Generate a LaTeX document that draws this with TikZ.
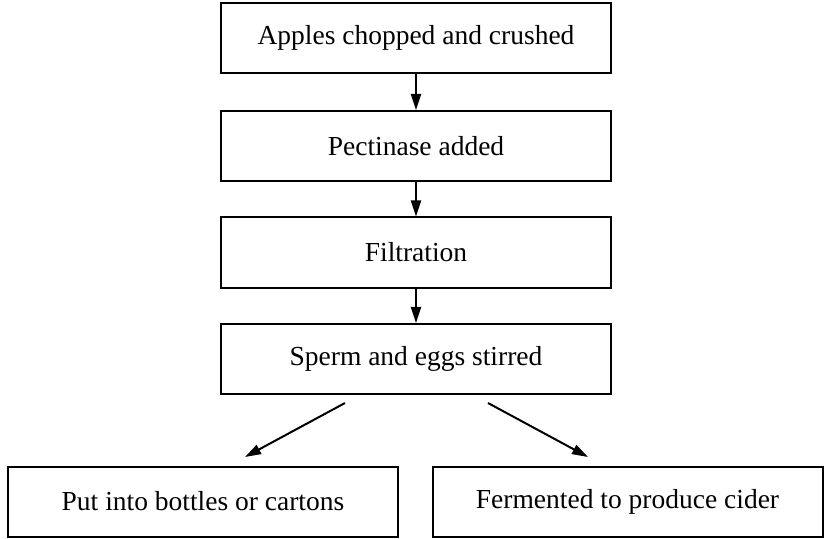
\documentclass[tikz,border=0pt]{standalone}
\usepackage{fontspec}
\setmainfont{Liberation Serif}
\usetikzlibrary{arrows.meta}
\begin{document}
\begin{tikzpicture}[x=1bp,y=-1bp,
  stepbox/.style={draw=black,line width=2bp,minimum width=390bp,minimum height=70bp,
    inner sep=0pt,font=\fontsize{27.5bp}{32bp}\selectfont},
  flow/.style={line width=2bp,-{Triangle[length=16bp,width=10bp]}}]
  \useasboundingbox (0,0) rectangle (825,539);
  \node[stepbox] (apples) at (416,38) {Apples chopped and crushed};
  \node[stepbox] (pect) at (416,146) {Pectinase added};
  \node[stepbox] (filt) at (416,252.5) {Filtration};
  \node[stepbox] (stir) at (416,359) {Sperm and eggs stirred};
  \node[stepbox] (bottle) at (203,501.5) {Put into bottles or cartons};
  \node[stepbox] (ferm) at (627.5,501.5) {Fermented to produce cider};
  % diagonal connector ends, just clear of the boxes
  \coordinate (ls) at (345,403);
  \coordinate (le) at (245,457);
  \coordinate (rs) at (488,403);
  \coordinate (re) at (588,457);
  \draw[flow] (apples) -- (pect);
  \draw[flow] (pect) -- (filt);
  \draw[flow] (filt) -- (stir);
  \draw[flow] (ls) -- (le);
  \draw[flow] (rs) -- (re);
\end{tikzpicture}
\end{document}
